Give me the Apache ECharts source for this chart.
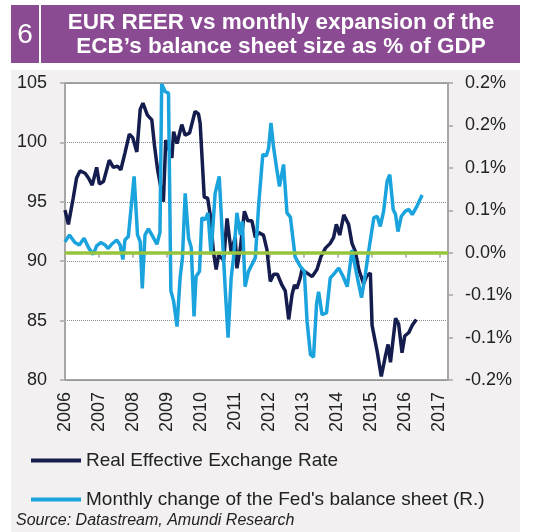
<!DOCTYPE html>
<html>
<head>
<meta charset="utf-8">
<script src="https://cdn.jsdelivr.net/npm/echarts@6/dist/echarts.min.js"></script>
<style>
  html, body { margin: 0; padding: 0; background: #fff; }
  #chart { width: 535px; height: 532px; }
</style>
</head>
<body>
<div id="chart"></div>
<script>
  // x axis ticks
  const yearTicks = [2006, 2007, 2008, 2009, 2010, 2011, 2012, 2013, 2014, 2015, 2016, 2017]

  // Real Effective Exchange Rate (left axis)
  const reerDates = [2006.00, 2006.10, 2006.24, 2006.34, 2006.44, 2006.59, 2006.69, 2006.80, 2006.93, 2007.01,
    2007.13, 2007.30, 2007.42, 2007.54, 2007.64, 2007.76, 2007.89, 2007.99, 2008.11, 2008.21,
    2008.29, 2008.42, 2008.55, 2008.63, 2008.72, 2008.89, 2008.96, 2009.14, 2009.19, 2009.29,
    2009.43, 2009.53, 2009.66, 2009.82, 2009.92, 2009.97, 2010.09, 2010.19, 2010.26, 2010.36,
    2010.44, 2010.51, 2010.66, 2010.76, 2010.88, 2011.00, 2011.05, 2011.15, 2011.27, 2011.37,
    2011.49, 2011.59, 2011.69, 2011.83, 2011.93, 2012.03, 2012.13, 2012.24, 2012.37, 2012.47,
    2012.57, 2012.67, 2012.74, 2012.81, 2012.91, 2012.96, 2013.11, 2013.26, 2013.40, 2013.52,
    2013.65, 2013.79, 2013.89, 2013.97, 2014.07, 2014.19, 2014.33, 2014.43, 2014.53, 2014.63,
    2014.77, 2014.87, 2014.97, 2015.02, 2015.17, 2015.29, 2015.41, 2015.49, 2015.56, 2015.71,
    2015.80, 2015.90, 2015.98, 2016.10, 2016.20, 2016.32]
  const reerValues = [94.3, 93.1, 95.3, 97.0, 97.6, 97.4, 97.0, 96.4, 97.9, 96.5,
    96.7, 98.5, 97.9, 98.0, 97.7, 99.1, 100.7, 100.4, 99.2, 102.8,
    103.3, 102.3, 101.9, 99.7, 97.7, 95.0, 100.2, 98.7, 100.9, 99.9,
    101.5, 100.6, 100.8, 102.6, 102.4, 101.6, 95.4, 95.3, 94.0, 90.8,
    89.3, 90.5, 90.1, 93.6, 90.8, 92.0, 89.4, 91.1, 94.2, 93.4,
    93.4, 92.0, 92.4, 92.2, 91.0, 88.3, 88.9, 88.9, 88.0, 87.5,
    85.1, 87.2, 88.0, 87.7, 88.6, 89.3, 89.0, 88.7, 89.3, 90.4,
    91.1, 91.5, 92.0, 93.1, 92.2, 93.9, 93.1, 91.5, 90.8, 89.3,
    88.1, 88.8, 89.0, 84.6, 82.4, 80.3, 82.0, 83.0, 81.5, 85.2,
    84.7, 82.3, 83.7, 84.0, 84.6, 85.1]

  // Monthly change of the balance sheet, % of GDP (right axis)
  const fedDates = [2006.00, 2006.13, 2006.29, 2006.42, 2006.56, 2006.69, 2006.83, 2006.93, 2007.05, 2007.18,
    2007.27, 2007.37, 2007.52, 2007.62, 2007.70, 2007.76, 2007.86, 2008.03, 2008.13, 2008.21,
    2008.27, 2008.35, 2008.45, 2008.58, 2008.70, 2008.79, 2008.84, 2008.94, 2009.04, 2009.11,
    2009.19, 2009.29, 2009.38, 2009.45, 2009.53, 2009.63, 2009.71, 2009.79, 2009.85, 2009.95,
    2010.02, 2010.12, 2010.20, 2010.29, 2010.41, 2010.53, 2010.61, 2010.71, 2010.79, 2010.88,
    2010.95, 2011.05, 2011.15, 2011.21, 2011.29, 2011.39, 2011.49, 2011.59, 2011.69, 2011.81,
    2011.91, 2011.98, 2012.05, 2012.13, 2012.23, 2012.30, 2012.42, 2012.52, 2012.62, 2012.76,
    2012.91, 2013.03, 2013.11, 2013.21, 2013.30, 2013.39, 2013.45, 2013.55, 2013.68, 2013.79,
    2013.92, 2014.04, 2014.17, 2014.29, 2014.43, 2014.58, 2014.71, 2014.82, 2014.92, 2015.07,
    2015.17, 2015.26, 2015.36, 2015.46, 2015.54, 2015.64, 2015.71, 2015.78, 2015.88, 2016.00,
    2016.10, 2016.20, 2016.34, 2016.49]
  const fedValues = [0.013, 0.021, 0.012, 0.009, 0.017, 0.006, -0.002, 0.008, 0.012, 0.009,
    0.005, 0.010, 0.015, 0.009, -0.008, 0.015, 0.019, 0.090, 0.021, 0.013,
    -0.042, 0.021, 0.028, 0.019, 0.010, 0.024, 0.199, 0.190, 0.188, -0.045,
    -0.057, -0.087, -0.030, -0.006, 0.070, 0.017, 0.006, -0.075, -0.028, -0.022,
    0.041, 0.039, 0.047, -0.002, 0.070, 0.090, 0.029, -0.045, -0.100, -0.030,
    -0.006, 0.047, 0.021, 0.037, -0.040, -0.022, -0.014, -0.006, 0.057, 0.116,
    0.114, 0.123, 0.153, 0.123, 0.096, 0.078, 0.104, 0.047, 0.042, -0.005,
    -0.016, -0.022, -0.081, -0.120, -0.123, -0.060, -0.046, -0.073, -0.071, -0.030,
    -0.024, -0.018, -0.028, -0.040, 0.003, -0.028, -0.053, -0.026, 0.002, 0.041,
    0.043, 0.031, 0.049, 0.084, 0.092, 0.051, 0.045, 0.025, 0.043, 0.049,
    0.051, 0.045, 0.055, 0.068]

  const reerName = 'Real Effective Exchange Rate'
  const fedName = "Monthly change of the Fed's balance sheet (R.)"

  const font = 'Liberation Sans, Arial, Helvetica, sans-serif'
  const axisGrey = '#a6a6a6'

  let reerData = reerDates.map(function (d, i) { return [d, reerValues[i]] })
  let fedData = fedDates.map(function (d, i) { return [d, fedValues[i]] })

  // excel style rounding: 0.15 -> 0.2%, -0.05 -> -0.1%
  function pctLabel (v) {
    let r = Math.sign(v) * Math.round(Math.abs(v) * 10 + 1e-6) / 10
    return r.toFixed(1) + '%'
  }

  let chart = echarts.init(document.getElementById('chart'))
  chart.setOption({
    animation: false,
    textStyle: { fontFamily: font },
    graphic: [
      { type: 'rect', z: -10, shape: { x: 11, y: 70, width: 509, height: 462 }, style: { fill: '#f2f0f1' } },
      { type: 'rect', z: -10, shape: { x: 11, y: 5, width: 509, height: 58 }, style: { fill: '#8a4b93' } },
      { type: 'line', shape: { x1: 40, y1: 5, x2: 40, y2: 63 }, style: { stroke: '#fff', lineWidth: 2 } },
      { type: 'text', x: 25, y: 35, style: { text: '6', fill: '#fff', fontSize: 28, fontFamily: font, align: 'center', verticalAlign: 'middle' } },
      {
        type: 'text', x: 281, y: 35,
        style: {
          text: 'EUR REER vs monthly expansion of the\nECB’s balance sheet size as % of GDP',
          fill: '#fff', fontSize: 22.5, fontWeight: 'bold', fontFamily: font,
          lineHeight: 24, align: 'center', verticalAlign: 'middle'
        }
      },
      {
        type: 'text', x: 16, y: 521,
        style: { text: 'Source: Datastream, Amundi Research', fill: '#222', fontSize: 16, fontStyle: 'italic', fontFamily: font, verticalAlign: 'middle' }
      }
    ],
    grid: {
      left: 65, right: 87, top: 83, bottom: 152,
      outerBoundsMode: 'none',
      show: true, backgroundColor: '#fff', borderColor: axisGrey, borderWidth: 2
    },
    legend: {
      orient: 'vertical',
      left: 26, top: 446,
      icon: 'rect',
      itemWidth: 50, itemHeight: 4, itemGap: 20,
      textStyle: { fontSize: 19, color: '#222', fontFamily: font },
      data: [reerName, fedName]
    },
    xAxis: {
      type: 'value',
      min: 2006, max: 2017.25,
      axisLine: { show: true, lineStyle: { color: axisGrey, width: 2 } },
      axisTick: { show: true, customValues: yearTicks, length: 5, lineStyle: { color: axisGrey, width: 1.5 } },
      axisLabel: { customValues: yearTicks, rotate: 90, margin: 12, fontSize: 18, color: '#222', formatter: function (v) { return String(v) } },
      splitLine: { show: false }
    },
    yAxis: [
      {
        type: 'value', position: 'left',
        min: 80, max: 105, interval: 5,
        axisLine: { show: true, lineStyle: { color: axisGrey, width: 2 } },
        axisTick: { show: true, length: 5, lineStyle: { color: axisGrey, width: 1.5 } },
        axisLabel: { fontSize: 18, color: '#222', margin: 18 },
        splitLine: { show: true, lineStyle: { color: '#8c8c8c', type: 'dotted', width: 1 } }
      },
      {
        type: 'value', position: 'right',
        min: -0.15, max: 0.2, interval: 0.05,
        axisLine: { show: true, lineStyle: { color: axisGrey, width: 2 } },
        axisTick: { show: true, length: 5, lineStyle: { color: axisGrey, width: 1.5 } },
        axisLabel: { fontSize: 18, color: '#222', margin: 17, formatter: pctLabel },
        splitLine: { show: false }
      }
    ],
    series: [
      {
        name: reerName,
        type: 'line',
        yAxisIndex: 0,
        showSymbol: false,
        color: '#141d4d',
        lineStyle: { width: 3.5, color: '#141d4d' },
        data: reerData
      },
      {
        name: fedName,
        type: 'line',
        yAxisIndex: 1,
        showSymbol: false,
        color: '#1ba3dd',
        lineStyle: { width: 3.5, color: '#1ba3dd' },
        data: fedData,
        markLine: {
          silent: true,
          symbol: ['none', 'none'],
          label: { show: false },
          lineStyle: { color: '#97c43c', width: 3.5, type: 'solid' },
          data: [{ yAxis: 0 }]
        }
      }
    ]
  })
</script>
</body>
</html>
